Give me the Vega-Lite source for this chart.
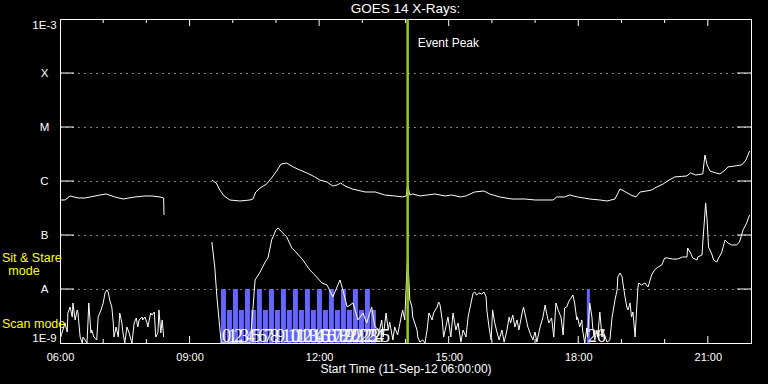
{
  "$schema": "https://vega.github.io/schema/vega-lite/v6.json",
  "width": 691,
  "height": 324,
  "autosize": {"type": "none"},
  "padding": {"left": 60, "top": 19, "right": 17, "bottom": 41},
  "background": "black",
  "title": {"text": "GOES 14 X-Rays:", "color": "white", "font": "Liberation Sans", "fontSize": 13.5, "fontWeight": "normal", "anchor": "middle", "offset": 2},
  "config": {"view": {"stroke": "white", "strokeWidth": 1}, "font": "Liberation Sans"},
  "datasets": {
    "flux": [
      {"seg": "a1", "t": "2012-09-11T06:01", "flux": 4.45e-7},
      {"seg": "a1", "t": "2012-09-11T06:07", "flux": 4.45e-7},
      {"seg": "a1", "t": "2012-09-11T06:14", "flux": 5.28e-7},
      {"seg": "a1", "t": "2012-09-11T06:25", "flux": 4.85e-7},
      {"seg": "a1", "t": "2012-09-11T06:35", "flux": 4.85e-7},
      {"seg": "a1", "t": "2012-09-11T06:42", "flux": 5.06e-7},
      {"seg": "a1", "t": "2012-09-11T06:56", "flux": 5.51e-7},
      {"seg": "a1", "t": "2012-09-11T07:04", "flux": 5.75e-7},
      {"seg": "a1", "t": "2012-09-11T07:16", "flux": 5.06e-7},
      {"seg": "a1", "t": "2012-09-11T07:28", "flux": 4.64e-7},
      {"seg": "a1", "t": "2012-09-11T07:44", "flux": 5.06e-7},
      {"seg": "a1", "t": "2012-09-11T07:58", "flux": 5.28e-7},
      {"seg": "a1", "t": "2012-09-11T08:08", "flux": 5.28e-7},
      {"seg": "a1", "t": "2012-09-11T08:19", "flux": 5.06e-7},
      {"seg": "a1", "t": "2012-09-11T08:24", "flux": 4.85e-7},
      {"seg": "a1", "t": "2012-09-11T08:24:30", "flux": 2.35e-7},
      {"seg": "a2", "t": "2012-09-11T09:31", "flux": 1.04e-6},
      {"seg": "a2", "t": "2012-09-11T09:37", "flux": 9.19e-7},
      {"seg": "a2", "t": "2012-09-11T09:42", "flux": 6.82e-7},
      {"seg": "a2", "t": "2012-09-11T09:48", "flux": 5.28e-7},
      {"seg": "a2", "t": "2012-09-11T09:56", "flux": 4.45e-7},
      {"seg": "a2", "t": "2012-09-11T10:10", "flux": 4.26e-7},
      {"seg": "a2", "t": "2012-09-11T10:24", "flux": 4.45e-7},
      {"seg": "a2", "t": "2012-09-11T10:28", "flux": 4.64e-7},
      {"seg": "a2", "t": "2012-09-11T10:32", "flux": 6.26e-7},
      {"seg": "a2", "t": "2012-09-11T10:38", "flux": 7.42e-7},
      {"seg": "a2", "t": "2012-09-11T10:47", "flux": 8.80e-7},
      {"seg": "a2", "t": "2012-09-11T10:54", "flux": 1.14e-6},
      {"seg": "a2", "t": "2012-09-11T11:01", "flux": 1.53e-6},
      {"seg": "a2", "t": "2012-09-11T11:07", "flux": 2.06e-6},
      {"seg": "a2", "t": "2012-09-11T11:15", "flux": 2.15e-6},
      {"seg": "a2", "t": "2012-09-11T11:24", "flux": 1.82e-6},
      {"seg": "a2", "t": "2012-09-11T11:33", "flux": 1.60e-6},
      {"seg": "a2", "t": "2012-09-11T11:43", "flux": 1.41e-6},
      {"seg": "a2", "t": "2012-09-11T11:54", "flux": 1.19e-6},
      {"seg": "a2", "t": "2012-09-11T12:01", "flux": 1.04e-6},
      {"seg": "a2", "t": "2012-09-11T12:11", "flux": 9.58e-7},
      {"seg": "a2", "t": "2012-09-11T12:19", "flux": 8.08e-7},
      {"seg": "a2", "t": "2012-09-11T12:25", "flux": 8.43e-7},
      {"seg": "a2", "t": "2012-09-11T12:30", "flux": 9.19e-7},
      {"seg": "a2", "t": "2012-09-11T12:36", "flux": 8.08e-7},
      {"seg": "a2", "t": "2012-09-11T12:46", "flux": 7.11e-7},
      {"seg": "a2", "t": "2012-09-11T13:04", "flux": 6.26e-7},
      {"seg": "a2", "t": "2012-09-11T13:18", "flux": 6.26e-7},
      {"seg": "a2", "t": "2012-09-11T13:31", "flux": 5.51e-7},
      {"seg": "a2", "t": "2012-09-11T13:45", "flux": 5.28e-7},
      {"seg": "a2", "t": "2012-09-11T13:56", "flux": 5.06e-7},
      {"seg": "a2", "t": "2012-09-11T14:01", "flux": 5.28e-7},
      {"seg": "a2", "t": "2012-09-11T14:03", "flux": 8.43e-7},
      {"seg": "a2", "t": "2012-09-11T14:06", "flux": 5.51e-7},
      {"seg": "a2", "t": "2012-09-11T14:10", "flux": 5.75e-7},
      {"seg": "a2", "t": "2012-09-11T14:20", "flux": 5.28e-7},
      {"seg": "a2", "t": "2012-09-11T14:41", "flux": 5.75e-7},
      {"seg": "a2", "t": "2012-09-11T14:55", "flux": 5.28e-7},
      {"seg": "a2", "t": "2012-09-11T15:04", "flux": 5.51e-7},
      {"seg": "a2", "t": "2012-09-11T15:16", "flux": 5.06e-7},
      {"seg": "a2", "t": "2012-09-11T15:24", "flux": 5.28e-7},
      {"seg": "a2", "t": "2012-09-11T15:36", "flux": 6.26e-7},
      {"seg": "a2", "t": "2012-09-11T15:49", "flux": 6.53e-7},
      {"seg": "a2", "t": "2012-09-11T15:57", "flux": 5.75e-7},
      {"seg": "a2", "t": "2012-09-11T16:11", "flux": 5.06e-7},
      {"seg": "a2", "t": "2012-09-11T16:28", "flux": 4.64e-7},
      {"seg": "a2", "t": "2012-09-11T16:46", "flux": 4.64e-7},
      {"seg": "a2", "t": "2012-09-11T17:00", "flux": 4.45e-7},
      {"seg": "a2", "t": "2012-09-11T17:25", "flux": 4.45e-7},
      {"seg": "a2", "t": "2012-09-11T17:30", "flux": 5.06e-7},
      {"seg": "a2", "t": "2012-09-11T17:41", "flux": 5.06e-7},
      {"seg": "a2", "t": "2012-09-11T17:48", "flux": 5.51e-7},
      {"seg": "a2", "t": "2012-09-11T17:59", "flux": 5.06e-7},
      {"seg": "a2", "t": "2012-09-11T18:16", "flux": 4.64e-7},
      {"seg": "a2", "t": "2012-09-11T18:30", "flux": 4.45e-7},
      {"seg": "a2", "t": "2012-09-11T18:40", "flux": 4.26e-7},
      {"seg": "a2", "t": "2012-09-11T18:51", "flux": 4.64e-7},
      {"seg": "a2", "t": "2012-09-11T18:58", "flux": 7.11e-7},
      {"seg": "a2", "t": "2012-09-11T19:06", "flux": 6.26e-7},
      {"seg": "a2", "t": "2012-09-11T19:13", "flux": 5.51e-7},
      {"seg": "a2", "t": "2012-09-11T19:20", "flux": 5.06e-7},
      {"seg": "a2", "t": "2012-09-11T19:26", "flux": 6.26e-7},
      {"seg": "a2", "t": "2012-09-11T19:35", "flux": 6.53e-7},
      {"seg": "a2", "t": "2012-09-11T19:42", "flux": 6.82e-7},
      {"seg": "a2", "t": "2012-09-11T19:49", "flux": 7.74e-7},
      {"seg": "a2", "t": "2012-09-11T19:58", "flux": 8.80e-7},
      {"seg": "a2", "t": "2012-09-11T20:04", "flux": 1.00e-6},
      {"seg": "a2", "t": "2012-09-11T20:14", "flux": 1.19e-6},
      {"seg": "a2", "t": "2012-09-11T20:31", "flux": 1.24e-6},
      {"seg": "a2", "t": "2012-09-11T20:36", "flux": 1.41e-6},
      {"seg": "a2", "t": "2012-09-11T20:43", "flux": 1.29e-6},
      {"seg": "a2", "t": "2012-09-11T20:53", "flux": 1.35e-6},
      {"seg": "a2", "t": "2012-09-11T20:56", "flux": 3.03e-6},
      {"seg": "a2", "t": "2012-09-11T20:59", "flux": 1.98e-6},
      {"seg": "a2", "t": "2012-09-11T21:03", "flux": 1.53e-6},
      {"seg": "a2", "t": "2012-09-11T21:11", "flux": 1.41e-6},
      {"seg": "a2", "t": "2012-09-11T21:17", "flux": 1.35e-6},
      {"seg": "a2", "t": "2012-09-11T21:24", "flux": 1.60e-6},
      {"seg": "a2", "t": "2012-09-11T21:28", "flux": 1.82e-6},
      {"seg": "a2", "t": "2012-09-11T21:38", "flux": 1.90e-6},
      {"seg": "a2", "t": "2012-09-11T21:47", "flux": 1.98e-6},
      {"seg": "a2", "t": "2012-09-11T21:53", "flux": 2.45e-6},
      {"seg": "a2", "t": "2012-09-11T21:58", "flux": 3.59e-6},
      {"seg": "b1", "t": "2012-09-11T06:01", "flux": 1.29e-9},
      {"seg": "b1", "t": "2012-09-11T06:07", "flux": 2.35e-9},
      {"seg": "b1", "t": "2012-09-11T06:10", "flux": 1.60e-9},
      {"seg": "b1", "t": "2012-09-11T06:11", "flux": 3.59e-9},
      {"seg": "b1", "t": "2012-09-11T06:14", "flux": 4.64e-9},
      {"seg": "b1", "t": "2012-09-11T06:17", "flux": 3.03e-9},
      {"seg": "b1", "t": "2012-09-11T06:18", "flux": 5.51e-9},
      {"seg": "b1", "t": "2012-09-11T06:21", "flux": 2.67e-9},
      {"seg": "b1", "t": "2012-09-11T06:24", "flux": 4.09e-9},
      {"seg": "b1", "t": "2012-09-11T06:25", "flux": 3.59e-9},
      {"seg": "b1", "t": "2012-09-11T06:28", "flux": 1.29e-9},
      {"seg": "b1", "t": "2012-09-11T06:31", "flux": 1.0e-9},
      {"seg": "b1", "t": "2012-09-11T06:32", "flux": 1.29e-9},
      {"seg": "b1", "t": "2012-09-11T06:37:30", "flux": 1.0e-9},
      {"seg": "b1", "t": "2012-09-11T06:39", "flux": 2.67e-9},
      {"seg": "b1", "t": "2012-09-11T06:40", "flux": 5.51e-9},
      {"seg": "b1", "t": "2012-09-11T06:43", "flux": 1.53e-9},
      {"seg": "b1", "t": "2012-09-11T06:44", "flux": 1.74e-9},
      {"seg": "b1", "t": "2012-09-11T06:47", "flux": 1.29e-9},
      {"seg": "b1", "t": "2012-09-11T06:51", "flux": 1.14e-9},
      {"seg": "b1", "t": "2012-09-11T06:53", "flux": 3.03e-9},
      {"seg": "b1", "t": "2012-09-11T06:57", "flux": 4.09e-9},
      {"seg": "b1", "t": "2012-09-11T07:00", "flux": 5.51e-9},
      {"seg": "b1", "t": "2012-09-11T07:02:30", "flux": 8.43e-9},
      {"seg": "b1", "t": "2012-09-11T07:05", "flux": 9.58e-9},
      {"seg": "b1", "t": "2012-09-11T07:07", "flux": 8.80e-9},
      {"seg": "b1", "t": "2012-09-11T07:09", "flux": 6.26e-9},
      {"seg": "b1", "t": "2012-09-11T07:12", "flux": 4.64e-9},
      {"seg": "b1", "t": "2012-09-11T07:14", "flux": 2.35e-9},
      {"seg": "b1", "t": "2012-09-11T07:15", "flux": 1.29e-9},
      {"seg": "b1", "t": "2012-09-11T07:18", "flux": 1.98e-9},
      {"seg": "b1", "t": "2012-09-11T07:21", "flux": 1.29e-9},
      {"seg": "b1", "t": "2012-09-11T07:23", "flux": 3.59e-9},
      {"seg": "b1", "t": "2012-09-11T07:26", "flux": 2.35e-9},
      {"seg": "b1", "t": "2012-09-11T07:27:30", "flux": 1.53e-9},
      {"seg": "b1", "t": "2012-09-11T07:30", "flux": 1.0e-9},
      {"seg": "b1", "t": "2012-09-11T07:33", "flux": 1.98e-9},
      {"seg": "b1", "t": "2012-09-11T07:36", "flux": 1.53e-9},
      {"seg": "b1", "t": "2012-09-11T07:40", "flux": 1.0e-9},
      {"seg": "b1", "t": "2012-09-11T07:43", "flux": 2.35e-9},
      {"seg": "b1", "t": "2012-09-11T07:46", "flux": 2.90e-9},
      {"seg": "b1", "t": "2012-09-11T07:48", "flux": 1.98e-9},
      {"seg": "b1", "t": "2012-09-11T07:50", "flux": 2.67e-9},
      {"seg": "b1", "t": "2012-09-11T07:54", "flux": 3.03e-9},
      {"seg": "b1", "t": "2012-09-11T07:55", "flux": 2.67e-9},
      {"seg": "b1", "t": "2012-09-11T07:58", "flux": 3.03e-9},
      {"seg": "b1", "t": "2012-09-11T08:01", "flux": 2.35e-9},
      {"seg": "b1", "t": "2012-09-11T08:02", "flux": 1.98e-9},
      {"seg": "b1", "t": "2012-09-11T08:06", "flux": 3.59e-9},
      {"seg": "b1", "t": "2012-09-11T08:08", "flux": 3.30e-9},
      {"seg": "b1", "t": "2012-09-11T08:11", "flux": 3.75e-9},
      {"seg": "b1", "t": "2012-09-11T08:13", "flux": 1.29e-9},
      {"seg": "b1", "t": "2012-09-11T08:16", "flux": 1.53e-9},
      {"seg": "b1", "t": "2012-09-11T08:17:30", "flux": 4.09e-9},
      {"seg": "b1", "t": "2012-09-11T08:20", "flux": 1.53e-9},
      {"seg": "b1", "t": "2012-09-11T08:22", "flux": 2.67e-9},
      {"seg": "b1", "t": "2012-09-11T08:24", "flux": 1.29e-9},
      {"seg": "b2", "t": "2012-09-11T09:31", "flux": 7.42e-8},
      {"seg": "b2", "t": "2012-09-11T09:35", "flux": 2.56e-8},
      {"seg": "b2", "t": "2012-09-11T09:38", "flux": 7.11e-9},
      {"seg": "b2", "t": "2012-09-11T09:41", "flux": 2.67e-9},
      {"seg": "b2", "t": "2012-09-11T09:44", "flux": 1.0e-9},
      {"seg": "b2", "t": "2012-09-11T10:24", "flux": 1.0e-9},
      {"seg": "b2", "t": "2012-09-11T10:28", "flux": 4.09e-9},
      {"seg": "b2", "t": "2012-09-11T10:31", "flux": 1.47e-8},
      {"seg": "b2", "t": "2012-09-11T10:38", "flux": 2.06e-8},
      {"seg": "b2", "t": "2012-09-11T10:45", "flux": 3.16e-8},
      {"seg": "b2", "t": "2012-09-11T10:49", "flux": 3.75e-8},
      {"seg": "b2", "t": "2012-09-11T10:54", "flux": 8.08e-8},
      {"seg": "b2", "t": "2012-09-11T11:00", "flux": 1.24e-7},
      {"seg": "b2", "t": "2012-09-11T11:03", "flux": 1.35e-7},
      {"seg": "b2", "t": "2012-09-11T11:08", "flux": 1.14e-7},
      {"seg": "b2", "t": "2012-09-11T11:15", "flux": 9.19e-8},
      {"seg": "b2", "t": "2012-09-11T11:22", "flux": 5.75e-8},
      {"seg": "b2", "t": "2012-09-11T11:29", "flux": 4.64e-8},
      {"seg": "b2", "t": "2012-09-11T11:37:30", "flux": 3.44e-8},
      {"seg": "b2", "t": "2012-09-11T11:47", "flux": 2.25e-8},
      {"seg": "b2", "t": "2012-09-11T11:54", "flux": 1.82e-8},
      {"seg": "b2", "t": "2012-09-11T12:04", "flux": 1.29e-8},
      {"seg": "b2", "t": "2012-09-11T12:11", "flux": 1.19e-8},
      {"seg": "b2", "t": "2012-09-11T12:19", "flux": 7.11e-9},
      {"seg": "b2", "t": "2012-09-11T12:29", "flux": 1.47e-8},
      {"seg": "b2", "t": "2012-09-11T12:33", "flux": 9.58e-9},
      {"seg": "b2", "t": "2012-09-11T12:39", "flux": 4.64e-9},
      {"seg": "b2", "t": "2012-09-11T12:47", "flux": 5.51e-9},
      {"seg": "b2", "t": "2012-09-11T12:54", "flux": 2.67e-9},
      {"seg": "b2", "t": "2012-09-11T13:01", "flux": 3.59e-9},
      {"seg": "b2", "t": "2012-09-11T13:06", "flux": 2.35e-9},
      {"seg": "b2", "t": "2012-09-11T13:13", "flux": 4.64e-9},
      {"seg": "b2", "t": "2012-09-11T13:17:30", "flux": 1.98e-9},
      {"seg": "b2", "t": "2012-09-11T13:24", "flux": 1.74e-9},
      {"seg": "b2", "t": "2012-09-11T13:27", "flux": 2.67e-9},
      {"seg": "b2", "t": "2012-09-11T13:29", "flux": 1.29e-9},
      {"seg": "b2", "t": "2012-09-11T13:33", "flux": 3.59e-9},
      {"seg": "b2", "t": "2012-09-11T13:36", "flux": 1.74e-9},
      {"seg": "b2", "t": "2012-09-11T13:38", "flux": 2.45e-9},
      {"seg": "b2", "t": "2012-09-11T13:42:30", "flux": 1.14e-9},
      {"seg": "b2", "t": "2012-09-11T13:45", "flux": 1.98e-9},
      {"seg": "b2", "t": "2012-09-11T13:49", "flux": 1.41e-9},
      {"seg": "b2", "t": "2012-09-11T13:54", "flux": 3.03e-9},
      {"seg": "b2", "t": "2012-09-11T13:56", "flux": 4.09e-9},
      {"seg": "b2", "t": "2012-09-11T13:59", "flux": 2.67e-9},
      {"seg": "b2", "t": "2012-09-11T14:01", "flux": 1.19e-8},
      {"seg": "b2", "t": "2012-09-11T14:03", "flux": 4.26e-8},
      {"seg": "b2", "t": "2012-09-11T14:06", "flux": 6.26e-9},
      {"seg": "b2", "t": "2012-09-11T14:09", "flux": 4.64e-9},
      {"seg": "b2", "t": "2012-09-11T14:10", "flux": 3.03e-9},
      {"seg": "b2", "t": "2012-09-11T14:16", "flux": 1.74e-9},
      {"seg": "b2", "t": "2012-09-11T14:17", "flux": 1.29e-9},
      {"seg": "b2", "t": "2012-09-11T14:20", "flux": 1.04e-9},
      {"seg": "b2", "t": "2012-09-11T14:24", "flux": 1.14e-9},
      {"seg": "b2", "t": "2012-09-11T14:27", "flux": 1.0e-9},
      {"seg": "b2", "t": "2012-09-11T14:30", "flux": 1.74e-9},
      {"seg": "b2", "t": "2012-09-11T14:32:30", "flux": 3.59e-9},
      {"seg": "b2", "t": "2012-09-11T14:37", "flux": 2.67e-9},
      {"seg": "b2", "t": "2012-09-11T14:39", "flux": 3.59e-9},
      {"seg": "b2", "t": "2012-09-11T14:44", "flux": 4.64e-9},
      {"seg": "b2", "t": "2012-09-11T14:46", "flux": 5.75e-9},
      {"seg": "b2", "t": "2012-09-11T14:48", "flux": 5.06e-9},
      {"seg": "b2", "t": "2012-09-11T14:51", "flux": 2.67e-9},
      {"seg": "b2", "t": "2012-09-11T14:53", "flux": 1.29e-9},
      {"seg": "b2", "t": "2012-09-11T14:56", "flux": 1.98e-9},
      {"seg": "b2", "t": "2012-09-11T14:59", "flux": 3.03e-9},
      {"seg": "b2", "t": "2012-09-11T15:03", "flux": 1.29e-9},
      {"seg": "b2", "t": "2012-09-11T15:06", "flux": 3.59e-9},
      {"seg": "b2", "t": "2012-09-11T15:10", "flux": 1.74e-9},
      {"seg": "b2", "t": "2012-09-11T15:13", "flux": 2.35e-9},
      {"seg": "b2", "t": "2012-09-11T15:17", "flux": 1.04e-9},
      {"seg": "b2", "t": "2012-09-11T15:20", "flux": 1.74e-9},
      {"seg": "b2", "t": "2012-09-11T15:24", "flux": 1.29e-9},
      {"seg": "b2", "t": "2012-09-11T15:27", "flux": 3.03e-9},
      {"seg": "b2", "t": "2012-09-11T15:31", "flux": 5.51e-9},
      {"seg": "b2", "t": "2012-09-11T15:34", "flux": 8.43e-9},
      {"seg": "b2", "t": "2012-09-11T15:36", "flux": 8.80e-9},
      {"seg": "b2", "t": "2012-09-11T15:39", "flux": 7.74e-9},
      {"seg": "b2", "t": "2012-09-11T15:42", "flux": 8.43e-9},
      {"seg": "b2", "t": "2012-09-11T15:46", "flux": 8.08e-9},
      {"seg": "b2", "t": "2012-09-11T15:49", "flux": 8.80e-9},
      {"seg": "b2", "t": "2012-09-11T15:52", "flux": 7.11e-9},
      {"seg": "b2", "t": "2012-09-11T15:53", "flux": 4.09e-9},
      {"seg": "b2", "t": "2012-09-11T15:56", "flux": 1.98e-9},
      {"seg": "b2", "t": "2012-09-11T15:59", "flux": 1.14e-9},
      {"seg": "b2", "t": "2012-09-11T16:01", "flux": 4.09e-9},
      {"seg": "b2", "t": "2012-09-11T16:04", "flux": 2.35e-9},
      {"seg": "b2", "t": "2012-09-11T16:07", "flux": 1.60e-9},
      {"seg": "b2", "t": "2012-09-11T16:10", "flux": 1.14e-9},
      {"seg": "b2", "t": "2012-09-11T16:14", "flux": 1.74e-9},
      {"seg": "b2", "t": "2012-09-11T16:17", "flux": 1.04e-9},
      {"seg": "b2", "t": "2012-09-11T16:21", "flux": 1.74e-9},
      {"seg": "b2", "t": "2012-09-11T16:24", "flux": 3.03e-9},
      {"seg": "b2", "t": "2012-09-11T16:26", "flux": 2.35e-9},
      {"seg": "b2", "t": "2012-09-11T16:29", "flux": 3.30e-9},
      {"seg": "b2", "t": "2012-09-11T16:32", "flux": 1.98e-9},
      {"seg": "b2", "t": "2012-09-11T16:35", "flux": 2.67e-9},
      {"seg": "b2", "t": "2012-09-11T16:37:30", "flux": 1.74e-9},
      {"seg": "b2", "t": "2012-09-11T16:42", "flux": 3.59e-9},
      {"seg": "b2", "t": "2012-09-11T16:44", "flux": 4.64e-9},
      {"seg": "b2", "t": "2012-09-11T16:47", "flux": 3.03e-9},
      {"seg": "b2", "t": "2012-09-11T16:50", "flux": 1.98e-9},
      {"seg": "b2", "t": "2012-09-11T16:54", "flux": 1.41e-9},
      {"seg": "b2", "t": "2012-09-11T16:57", "flux": 1.14e-9},
      {"seg": "b2", "t": "2012-09-11T17:00", "flux": 1.60e-9},
      {"seg": "b2", "t": "2012-09-11T17:02:30", "flux": 1.04e-9},
      {"seg": "b2", "t": "2012-09-11T17:07", "flux": 1.98e-9},
      {"seg": "b2", "t": "2012-09-11T17:11", "flux": 3.03e-9},
      {"seg": "b2", "t": "2012-09-11T17:14", "flux": 5.06e-9},
      {"seg": "b2", "t": "2012-09-11T17:16", "flux": 3.59e-9},
      {"seg": "b2", "t": "2012-09-11T17:19", "flux": 2.35e-9},
      {"seg": "b2", "t": "2012-09-11T17:23", "flux": 2.90e-9},
      {"seg": "b2", "t": "2012-09-11T17:26", "flux": 1.29e-9},
      {"seg": "b2", "t": "2012-09-11T17:29", "flux": 5.51e-9},
      {"seg": "b2", "t": "2012-09-11T17:32", "flux": 4.09e-9},
      {"seg": "b2", "t": "2012-09-11T17:36", "flux": 3.03e-9},
      {"seg": "b2", "t": "2012-09-11T17:39", "flux": 1.41e-9},
      {"seg": "b2", "t": "2012-09-11T17:41", "flux": 4.45e-9},
      {"seg": "b2", "t": "2012-09-11T17:44", "flux": 4.64e-9},
      {"seg": "b2", "t": "2012-09-11T17:46", "flux": 5.51e-9},
      {"seg": "b2", "t": "2012-09-11T17:48", "flux": 6.26e-9},
      {"seg": "b2", "t": "2012-09-11T17:51", "flux": 7.11e-9},
      {"seg": "b2", "t": "2012-09-11T17:52:30", "flux": 7.74e-9},
      {"seg": "b2", "t": "2012-09-11T17:55", "flux": 5.51e-9},
      {"seg": "b2", "t": "2012-09-11T17:58", "flux": 2.67e-9},
      {"seg": "b2", "t": "2012-09-11T17:59", "flux": 3.03e-9},
      {"seg": "b2", "t": "2012-09-11T18:02", "flux": 1.98e-9},
      {"seg": "b2", "t": "2012-09-11T18:05", "flux": 2.67e-9},
      {"seg": "b2", "t": "2012-09-11T18:06", "flux": 1.74e-9},
      {"seg": "b2", "t": "2012-09-11T18:09", "flux": 1.0e-9},
      {"seg": "b2", "t": "2012-09-11T18:12", "flux": 1.90e-9},
      {"seg": "b2", "t": "2012-09-11T18:13", "flux": 1.29e-9},
      {"seg": "b2", "t": "2012-09-11T18:16", "flux": 5.51e-9},
      {"seg": "b2", "t": "2012-09-11T18:19", "flux": 3.03e-9},
      {"seg": "b2", "t": "2012-09-11T18:20", "flux": 1.98e-9},
      {"seg": "b2", "t": "2012-09-11T18:23", "flux": 1.14e-9},
      {"seg": "b2", "t": "2012-09-11T18:26", "flux": 1.74e-9},
      {"seg": "b2", "t": "2012-09-11T18:27", "flux": 1.29e-9},
      {"seg": "b2", "t": "2012-09-11T18:30", "flux": 3.75e-9},
      {"seg": "b2", "t": "2012-09-11T18:33", "flux": 1.29e-9},
      {"seg": "b2", "t": "2012-09-11T18:34", "flux": 1.74e-9},
      {"seg": "b2", "t": "2012-09-11T18:40", "flux": 1.04e-9},
      {"seg": "b2", "t": "2012-09-11T18:44", "flux": 1.14e-9},
      {"seg": "b2", "t": "2012-09-11T18:47", "flux": 3.03e-9},
      {"seg": "b2", "t": "2012-09-11T18:48", "flux": 3.59e-9},
      {"seg": "b2", "t": "2012-09-11T18:51", "flux": 6.26e-9},
      {"seg": "b2", "t": "2012-09-11T18:54", "flux": 9.58e-9},
      {"seg": "b2", "t": "2012-09-11T18:55", "flux": 1.67e-8},
      {"seg": "b2", "t": "2012-09-11T18:58", "flux": 1.98e-8},
      {"seg": "b2", "t": "2012-09-11T19:01", "flux": 1.67e-8},
      {"seg": "b2", "t": "2012-09-11T19:02", "flux": 1.29e-8},
      {"seg": "b2", "t": "2012-09-11T19:05", "flux": 7.11e-9},
      {"seg": "b2", "t": "2012-09-11T19:07:30", "flux": 4.64e-9},
      {"seg": "b2", "t": "2012-09-11T19:09", "flux": 4.09e-9},
      {"seg": "b2", "t": "2012-09-11T19:12", "flux": 5.51e-9},
      {"seg": "b2", "t": "2012-09-11T19:14", "flux": 3.03e-9},
      {"seg": "b2", "t": "2012-09-11T19:16", "flux": 3.75e-9},
      {"seg": "b2", "t": "2012-09-11T19:19", "flux": 1.29e-9},
      {"seg": "b2", "t": "2012-09-11T19:21", "flux": 4.09e-9},
      {"seg": "b2", "t": "2012-09-11T19:23", "flux": 1.09e-8},
      {"seg": "b2", "t": "2012-09-11T19:24", "flux": 1.29e-8},
      {"seg": "b2", "t": "2012-09-11T19:28", "flux": 1.19e-8},
      {"seg": "b2", "t": "2012-09-11T19:32:30", "flux": 1.29e-8},
      {"seg": "b2", "t": "2012-09-11T19:37", "flux": 1.09e-8},
      {"seg": "b2", "t": "2012-09-11T19:42", "flux": 1.82e-8},
      {"seg": "b2", "t": "2012-09-11T19:46", "flux": 2.25e-8},
      {"seg": "b2", "t": "2012-09-11T19:51", "flux": 2.56e-8},
      {"seg": "b2", "t": "2012-09-11T19:56", "flux": 2.78e-8},
      {"seg": "b2", "t": "2012-09-11T20:00", "flux": 3.75e-8},
      {"seg": "b2", "t": "2012-09-11T20:04", "flux": 3.75e-8},
      {"seg": "b2", "t": "2012-09-11T20:11", "flux": 3.59e-8},
      {"seg": "b2", "t": "2012-09-11T20:18", "flux": 3.59e-8},
      {"seg": "b2", "t": "2012-09-11T20:25", "flux": 3.92e-8},
      {"seg": "b2", "t": "2012-09-11T20:31", "flux": 3.92e-8},
      {"seg": "b2", "t": "2012-09-11T20:32", "flux": 5.75e-8},
      {"seg": "b2", "t": "2012-09-11T20:36", "flux": 4.64e-8},
      {"seg": "b2", "t": "2012-09-11T20:39", "flux": 3.75e-8},
      {"seg": "b2", "t": "2012-09-11T20:45", "flux": 3.44e-8},
      {"seg": "b2", "t": "2012-09-11T20:46", "flux": 3.92e-8},
      {"seg": "b2", "t": "2012-09-11T20:52", "flux": 4.26e-8},
      {"seg": "b2", "t": "2012-09-11T20:53", "flux": 7.11e-8},
      {"seg": "b2", "t": "2012-09-11T20:57", "flux": 3.92e-7},
      {"seg": "b2", "t": "2012-09-11T20:59", "flux": 1.90e-7},
      {"seg": "b2", "t": "2012-09-11T21:01", "flux": 6.00e-8},
      {"seg": "b2", "t": "2012-09-11T21:06", "flux": 4.26e-8},
      {"seg": "b2", "t": "2012-09-11T21:08", "flux": 3.44e-8},
      {"seg": "b2", "t": "2012-09-11T21:12:30", "flux": 3.16e-8},
      {"seg": "b2", "t": "2012-09-11T21:15", "flux": 3.75e-8},
      {"seg": "b2", "t": "2012-09-11T21:19", "flux": 4.64e-8},
      {"seg": "b2", "t": "2012-09-11T21:24", "flux": 8.08e-8},
      {"seg": "b2", "t": "2012-09-11T21:28", "flux": 7.11e-8},
      {"seg": "b2", "t": "2012-09-11T21:33", "flux": 6.53e-8},
      {"seg": "b2", "t": "2012-09-11T21:40", "flux": 6.53e-8},
      {"seg": "b2", "t": "2012-09-11T21:44", "flux": 7.42e-8},
      {"seg": "b2", "t": "2012-09-11T21:49", "flux": 1.24e-7},
      {"seg": "b2", "t": "2012-09-11T21:54", "flux": 1.67e-7},
      {"seg": "b2", "t": "2012-09-11T21:58", "flux": 2.35e-7}
    ],
    "bars": [
      {"n": 0, "t": "2012-09-11T09:43:36", "t2": "2012-09-11T09:50:30", "flux": 1e-8, "base": 1e-9},
      {"n": 1, "t": "2012-09-11T09:51:56", "t2": "2012-09-11T09:58:52", "flux": 4.09e-9, "base": 1e-9},
      {"n": 2, "t": "2012-09-11T10:00:16", "t2": "2012-09-11T10:07:12", "flux": 1e-8, "base": 1e-9},
      {"n": 3, "t": "2012-09-11T10:08:36", "t2": "2012-09-11T10:15:30", "flux": 4.09e-9, "base": 1e-9},
      {"n": 4, "t": "2012-09-11T10:16:56", "t2": "2012-09-11T10:23:52", "flux": 1e-8, "base": 1e-9},
      {"n": 5, "t": "2012-09-11T10:25:16", "t2": "2012-09-11T10:32:12", "flux": 4.09e-9, "base": 1e-9},
      {"n": 6, "t": "2012-09-11T10:33:36", "t2": "2012-09-11T10:40:30", "flux": 1e-8, "base": 1e-9},
      {"n": 7, "t": "2012-09-11T10:41:56", "t2": "2012-09-11T10:48:52", "flux": 4.09e-9, "base": 1e-9},
      {"n": 8, "t": "2012-09-11T10:50:16", "t2": "2012-09-11T10:57:12", "flux": 1e-8, "base": 1e-9},
      {"n": 9, "t": "2012-09-11T10:58:36", "t2": "2012-09-11T11:05:30", "flux": 4.09e-9, "base": 1e-9},
      {"n": 10, "t": "2012-09-11T11:06:56", "t2": "2012-09-11T11:13:52", "flux": 1e-8, "base": 1e-9},
      {"n": 11, "t": "2012-09-11T11:15:16", "t2": "2012-09-11T11:22:12", "flux": 4.09e-9, "base": 1e-9},
      {"n": 12, "t": "2012-09-11T11:23:36", "t2": "2012-09-11T11:30:30", "flux": 1e-8, "base": 1e-9},
      {"n": 13, "t": "2012-09-11T11:31:56", "t2": "2012-09-11T11:38:52", "flux": 4.09e-9, "base": 1e-9},
      {"n": 14, "t": "2012-09-11T11:40:16", "t2": "2012-09-11T11:47:12", "flux": 1e-8, "base": 1e-9},
      {"n": 15, "t": "2012-09-11T11:48:36", "t2": "2012-09-11T11:55:30", "flux": 4.09e-9, "base": 1e-9},
      {"n": 16, "t": "2012-09-11T11:56:56", "t2": "2012-09-11T12:03:52", "flux": 1e-8, "base": 1e-9},
      {"n": 17, "t": "2012-09-11T12:05:16", "t2": "2012-09-11T12:12:12", "flux": 4.09e-9, "base": 1e-9},
      {"n": 18, "t": "2012-09-11T12:13:36", "t2": "2012-09-11T12:20:30", "flux": 1e-8, "base": 1e-9},
      {"n": 19, "t": "2012-09-11T12:21:56", "t2": "2012-09-11T12:28:52", "flux": 4.09e-9, "base": 1e-9},
      {"n": 20, "t": "2012-09-11T12:30:16", "t2": "2012-09-11T12:37:12", "flux": 1e-8, "base": 1e-9},
      {"n": 21, "t": "2012-09-11T12:38:36", "t2": "2012-09-11T12:45:30", "flux": 4.09e-9, "base": 1e-9},
      {"n": 22, "t": "2012-09-11T12:46:56", "t2": "2012-09-11T12:53:52", "flux": 1e-8, "base": 1e-9},
      {"n": 23, "t": "2012-09-11T12:55:16", "t2": "2012-09-11T13:02:12", "flux": 4.09e-9, "base": 1e-9},
      {"n": 24, "t": "2012-09-11T13:03:36", "t2": "2012-09-11T13:10:30", "flux": 1e-8, "base": 1e-9},
      {"n": 25, "t": "2012-09-11T13:11:56", "t2": "2012-09-11T13:18:52", "flux": 4.09e-9, "base": 1e-9},
      {"n": 26, "t": "2012-09-11T18:11:56", "t2": "2012-09-11T18:16:07", "flux": 1e-8, "base": 1e-9}
    ],
    "event": [
      {"t": "2012-09-11T14:03", "flux": 1e-9, "flux2": 1e-3, "label": "Event Peak", "labelflux": 3.59e-4}
    ],
    "ticks": [
      {"side": "left", "t": "2012-09-11T06:00", "flux": 1e-8, "major": true},
      {"side": "left", "t": "2012-09-11T06:00", "flux": 1e-7, "major": true},
      {"side": "left", "t": "2012-09-11T06:00", "flux": 1e-6, "major": true},
      {"side": "left", "t": "2012-09-11T06:00", "flux": 1e-5, "major": true},
      {"side": "left", "t": "2012-09-11T06:00", "flux": 1e-4, "major": true},
      {"side": "right", "t": "2012-09-11T22:00", "flux": 1e-8, "major": true},
      {"side": "right", "t": "2012-09-11T22:00", "flux": 1e-7, "major": true},
      {"side": "right", "t": "2012-09-11T22:00", "flux": 1e-6, "major": true},
      {"side": "right", "t": "2012-09-11T22:00", "flux": 1e-5, "major": true},
      {"side": "right", "t": "2012-09-11T22:00", "flux": 1e-4, "major": true},
      {"side": "bottom", "t": "2012-09-11T07:00", "flux": 1e-9, "major": false},
      {"side": "bottom", "t": "2012-09-11T08:00", "flux": 1e-9, "major": false},
      {"side": "bottom", "t": "2012-09-11T09:00", "flux": 1e-9, "major": true},
      {"side": "bottom", "t": "2012-09-11T10:00", "flux": 1e-9, "major": false},
      {"side": "bottom", "t": "2012-09-11T11:00", "flux": 1e-9, "major": false},
      {"side": "bottom", "t": "2012-09-11T12:00", "flux": 1e-9, "major": true},
      {"side": "bottom", "t": "2012-09-11T13:00", "flux": 1e-9, "major": false},
      {"side": "bottom", "t": "2012-09-11T14:00", "flux": 1e-9, "major": false},
      {"side": "bottom", "t": "2012-09-11T15:00", "flux": 1e-9, "major": true},
      {"side": "bottom", "t": "2012-09-11T16:00", "flux": 1e-9, "major": false},
      {"side": "bottom", "t": "2012-09-11T17:00", "flux": 1e-9, "major": false},
      {"side": "bottom", "t": "2012-09-11T18:00", "flux": 1e-9, "major": true},
      {"side": "bottom", "t": "2012-09-11T19:00", "flux": 1e-9, "major": false},
      {"side": "bottom", "t": "2012-09-11T20:00", "flux": 1e-9, "major": false},
      {"side": "bottom", "t": "2012-09-11T21:00", "flux": 1e-9, "major": true},
      {"side": "top", "t": "2012-09-11T07:00", "flux": 1e-3, "major": false},
      {"side": "top", "t": "2012-09-11T08:00", "flux": 1e-3, "major": false},
      {"side": "top", "t": "2012-09-11T09:00", "flux": 1e-3, "major": true},
      {"side": "top", "t": "2012-09-11T10:00", "flux": 1e-3, "major": false},
      {"side": "top", "t": "2012-09-11T11:00", "flux": 1e-3, "major": false},
      {"side": "top", "t": "2012-09-11T12:00", "flux": 1e-3, "major": true},
      {"side": "top", "t": "2012-09-11T13:00", "flux": 1e-3, "major": false},
      {"side": "top", "t": "2012-09-11T14:00", "flux": 1e-3, "major": false},
      {"side": "top", "t": "2012-09-11T15:00", "flux": 1e-3, "major": true},
      {"side": "top", "t": "2012-09-11T16:00", "flux": 1e-3, "major": false},
      {"side": "top", "t": "2012-09-11T17:00", "flux": 1e-3, "major": false},
      {"side": "top", "t": "2012-09-11T18:00", "flux": 1e-3, "major": true},
      {"side": "top", "t": "2012-09-11T19:00", "flux": 1e-3, "major": false},
      {"side": "top", "t": "2012-09-11T20:00", "flux": 1e-3, "major": false},
      {"side": "top", "t": "2012-09-11T21:00", "flux": 1e-3, "major": true}
    ],
    "modes": [
      {"label": "Sit & Stare", "t": "2012-09-11T06:00", "flux": 3.75e-8, "kind": "a"},
      {"label": "Scan mode", "t": "2012-09-11T06:00", "flux": 2.25e-9, "kind": "a"},
      {"label": "mode", "t": "2012-09-11T06:00", "flux": 2.15e-8, "kind": "b"}
    ]
  },
  "encoding": {
    "x": {
      "field": "t", "type": "temporal",
      "scale": {"domain": [{"year": 2012, "month": 9, "date": 11, "hours": 6}, {"year": 2012, "month": 9, "date": 11, "hours": 22}], "nice": false},
      "axis": {
        "values": [
          {"year": 2012, "month": 9, "date": 11, "hours": 6},
          {"year": 2012, "month": 9, "date": 11, "hours": 9},
          {"year": 2012, "month": 9, "date": 11, "hours": 12},
          {"year": 2012, "month": 9, "date": 11, "hours": 15},
          {"year": 2012, "month": 9, "date": 11, "hours": 18},
          {"year": 2012, "month": 9, "date": 11, "hours": 21}
        ],
        "format": "%H:%M", "ticks": false, "domain": false, "grid": false,
        "labelColor": "white", "labelFont": "Liberation Sans", "labelFontSize": 11, "labelPadding": 8,
        "labelFlush": false, "labelOverlap": false,
        "title": "Start Time (11-Sep-12 06:00:00)", "titleColor": "white", "titleFont": "Liberation Sans",
        "titleFontSize": 12, "titleFontWeight": "normal", "titlePadding": 1
      }
    },
    "y": {
      "field": "flux", "type": "quantitative",
      "scale": {"type": "log", "domain": [1e-9, 1e-3], "nice": false},
      "axis": {
        "values": [1e-9, 1e-8, 1e-7, 1e-6, 1e-5, 1e-4, 1e-3],
        "labelExpr": "['1E-9','A','B','C','M','X','1E-3'][round(log(datum.value)/LN10)+9]",
        "ticks": false, "domain": false, "grid": true, "gridColor": "white", "gridDash": [1, 5], "gridOpacity": 1, "gridWidth": 1,
        "labelColor": "white", "labelFont": "Liberation Sans", "labelFontSize": 11.5, "labelAlign": "center", "labelPadding": 16,
        "labelFlush": true, "labelOverlap": false, "title": null
      }
    }
  },
  "layer": [
    {
      "data": {"name": "bars"},
      "mark": {"type": "rect", "color": "#6666ff"},
      "encoding": {"x2": {"field": "t2"}, "y2": {"field": "base"}}
    },
    {
      "data": {"name": "bars"},
      "mark": {"type": "text", "color": "white", "align": "left", "baseline": "alphabetic", "dx": 1, "dy": -1, "font": "Liberation Sans Narrow", "fontSize": 18},
      "encoding": {"y": {"field": "base", "type": "quantitative"}, "text": {"field": "n"}}
    },
    {
      "data": {"name": "flux"},
      "mark": {"type": "line", "color": "white", "strokeWidth": 1, "clip": true},
      "encoding": {"detail": {"field": "seg"}}
    },
    {
      "data": {"name": "event"},
      "mark": {"type": "rule", "color": "#9acd00", "strokeWidth": 2.5},
      "encoding": {"y2": {"field": "flux2"}}
    },
    {
      "data": {"name": "event"},
      "mark": {"type": "text", "color": "white", "align": "left", "baseline": "middle", "dx": 10, "font": "Liberation Sans", "fontSize": 12},
      "encoding": {"y": {"field": "labelflux", "type": "quantitative"}, "text": {"field": "label"}}
    },
    {
      "data": {"name": "ticks"},
      "transform": [{"filter": "datum.side == 'left'"}],
      "mark": {"type": "point", "shape": "M0,0L2,0", "size": 196, "filled": false, "stroke": "white", "strokeWidth": 1, "opacity": 1}
    },
    {
      "data": {"name": "ticks"},
      "transform": [{"filter": "datum.side == 'right'"}],
      "mark": {"type": "point", "shape": "M0,0L-2,0", "size": 196, "filled": false, "stroke": "white", "strokeWidth": 1, "opacity": 1}
    },
    {
      "data": {"name": "ticks"},
      "transform": [{"filter": "datum.side == 'bottom' && datum.major"}],
      "mark": {"type": "point", "shape": "M0,0L0,-2", "size": 49, "filled": false, "stroke": "white", "strokeWidth": 1, "opacity": 1}
    },
    {
      "data": {"name": "ticks"},
      "transform": [{"filter": "datum.side == 'bottom' && !datum.major"}],
      "mark": {"type": "point", "shape": "M0,0L0,-2", "size": 16, "filled": false, "stroke": "white", "strokeWidth": 1, "opacity": 1}
    },
    {
      "data": {"name": "ticks"},
      "transform": [{"filter": "datum.side == 'top' && datum.major"}],
      "mark": {"type": "point", "shape": "M0,0L0,2", "size": 49, "filled": false, "stroke": "white", "strokeWidth": 1, "opacity": 1}
    },
    {
      "data": {"name": "ticks"},
      "transform": [{"filter": "datum.side == 'top' && !datum.major"}],
      "mark": {"type": "point", "shape": "M0,0L0,2", "size": 16, "filled": false, "stroke": "white", "strokeWidth": 1, "opacity": 1}
    },
    {
      "data": {"name": "modes"},
      "transform": [{"filter": "datum.kind == 'a'"}],
      "mark": {"type": "text", "color": "#ffff00", "align": "left", "baseline": "middle", "dx": -58, "font": "Liberation Sans", "fontSize": 12.5},
      "encoding": {"text": {"field": "label"}}
    },
    {
      "data": {"name": "modes"},
      "transform": [{"filter": "datum.kind == 'b'"}],
      "mark": {"type": "text", "color": "#ffff00", "align": "center", "baseline": "middle", "dx": -36, "font": "Liberation Sans", "fontSize": 12.5},
      "encoding": {"text": {"field": "label"}}
    }
  ]
}
